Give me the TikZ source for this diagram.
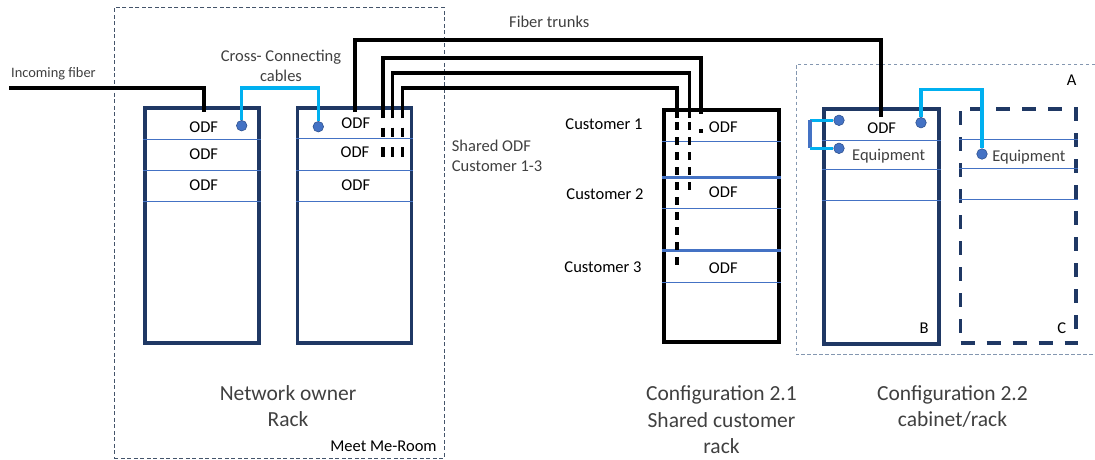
\documentclass[tikz,border=0pt]{standalone}
\usepackage{fontspec}
\setmainfont{Carlito}
\definecolor{navy}{HTML}{1F3864}
\definecolor{rowblue}{HTML}{4472C4}
\definecolor{portedge}{HTML}{2F528F}
\definecolor{xcyan}{HTML}{00B0F0}
\definecolor{roomgray}{HTML}{44546A}
\definecolor{agray}{HTML}{8497B0}
\definecolor{txtgray}{HTML}{404040}
\begin{document}
\begin{tikzpicture}[x=1pt, y=-1pt,
  rack/.style={draw=navy, line width=3.6pt, minimum width=114pt, minimum height=235pt,
               inner sep=0pt},
  rowline/.style={draw=rowblue, line width=0.9pt},
  slab/.style={draw=rowblue, line width=3.2pt},
  port/.style={circle, fill=rowblue, draw=portedge, line width=0.6pt,
               minimum size=10.5pt, inner sep=0pt},
  fiber/.style={draw=black, line width=3.2pt},
  trunk/.style={draw=black, line width=4.4pt},
  stub/.style={draw=black, line width=3.2pt, dash pattern=on 9.5pt off 10pt},
  stubb/.style={draw=black, line width=3.2pt, dash pattern=on 8pt off 7pt},
  xcable/.style={draw=xcyan, line width=3.4pt},
  lbl/.style={font=\fontsize{16.5}{20}\selectfont, inner sep=0pt},
  note/.style={lbl, text=txtgray},
  bigtxt/.style={font=\fontsize{21.5}{26.2}\selectfont, text=txtgray, inner sep=0pt,
                 align=center},
]
\useasboundingbox (0,0) rectangle (1095,460);
\node[draw=roomgray, line width=0.9pt, dash pattern=on 4pt off 2.5pt, minimum width=329.7pt,
      minimum height=451pt, inner sep=0pt] (mmr) at (279.2,232.8) {};
\draw[draw=agray, line width=0.9pt, dash pattern=on 3.5pt off 2.5pt]
  (1095,64.5) -- (796,64.5) -- (796,354.3) -- (1095,354.3);
\node[rack] (r1) at (202,225.5) {};
\node[rack] (r2) at (354.5,225.5) {};
\node[rack, draw=black, line width=4pt, minimum width=115pt, minimum height=232.5pt]
  (r3) at (721,225.75) {};
\node[rack, minimum width=115pt] (rb) at (881.2,226.4) {};
\node[rack, dash pattern=on 14pt off 12pt, minimum width=115.5pt, minimum height=234.3pt]
  (rc) at (1018.25,225.9) {};
\foreach \y in {139.3,170.3,201} \draw[rowline] (r1.west |- 0,\y) -- (r1.east |- 0,\y);
\foreach \y in {138.3,170.3,201} \draw[rowline] (r2.west |- 0,\y) -- (r2.east |- 0,\y);
\foreach \y in {141.7,208.3,282.3} \draw[rowline] (r3.west |- 0,\y) -- (r3.east |- 0,\y);
\foreach \y in {177.3,250.7} \draw[slab] (r3.west |- 0,\y) -- (r3.east |- 0,\y);
\foreach \y in {140,169.3,200.3} \draw[rowline] (rb.west |- 0,\y) -- (rb.east |- 0,\y);
\foreach \y in {139.3,168.3,199.3} \draw[rowline] (rc.west |- 0,\y) -- (rc.east |- 0,\y);
\coordinate (inc) at (9,88);
\coordinate (r1in) at (204,112);
\coordinate (t0a) at (355,112);
\coordinate (t0b) at (881,117);
\coordinate (t1a) at (383,118);
\coordinate (t1b) at (701,114);
\coordinate (t2a) at (392.7,118);
\coordinate (t2b) at (689.5,118);
\coordinate (t3a) at (402.5,118);
\coordinate (t3b) at (677,118);
\coordinate (lpa) at (810,120.3);
\coordinate (lpb) at (810,148.3);
\draw[fiber] (inc) -| (r1in);
\draw[trunk] (t0a) -- ++(0,-72) -| (t0b);
\draw[fiber] (t1a) -- ++(0,-60) -| (t1b);
\draw[fiber] (t2a) -- ++(0,-45) -| (t2b);
\draw[fiber] (t3a) -- ++(0,-30) -| (t3b);
\draw[stub] ([yshift=-9.5pt]t1a) -- ([yshift=-39pt]t1a);
\draw[stub] ([yshift=-9.5pt]t2a) -- ([yshift=-39pt]t2a);
\draw[stub] ([yshift=-9.5pt]t3a) -- ([yshift=-39pt]t3a);
\draw[stubb] ([yshift=-4pt]t3b) -- ([yshift=-150pt]t3b);
\draw[stubb] ([yshift=-4pt]t2b) -- ([yshift=-75pt]t2b);
\draw[fiber] ([yshift=-15pt]t1b) -- ([yshift=-19pt]t1b);
\node[port] (p1) at (241.7,125.7) {};
\node[port] (p2) at (318.3,126.7) {};
\node[port] (p3) at (839,120.3) {};
\node[port] (p4) at (839,148.3) {};
\node[port] (p5) at (921,122.7) {};
\node[port] (p6) at (982,154) {};
\draw[xcable] (p1) -- ++(0,-37.7) -| (p2);
\draw[xcable] (p3) -- (lpa);
\draw[draw=rowblue, line width=3.4pt] (lpa) -- (lpb);
\draw[xcable] (lpb) -- (p4);
\draw[xcable] (p5) -- ++(0,-33.4) -| (p6);
\node[note, anchor=west, font=\fontsize{14.4}{17}\selectfont] (lblinc) at (11,74) {Incoming fiber};
\node[note, align=center] (lblcross) at (281,65.5) {Cross- Connecting\\cables};
\node[note] (lbltrunk) at (549.3,22) {Fiber trunks};
\node[note, align=left, anchor=west] (lblshared) at (451.7,156) {Shared ODF\\Customer 1-3};
\node[lbl] (odf11) at (203.7,127.3) {ODF};
\node[lbl] (odf12) at (203.7,154.3) {ODF};
\node[lbl] (odf13) at (203.7,185.7) {ODF};
\node[lbl] (odf21) at (355.8,123.3) {ODF};
\node[lbl] (odf22) at (355,152.3) {ODF};
\node[lbl] (odf23) at (355.8,185.7) {ODF};
\node[lbl] (cust1) at (604,124) {Customer 1};
\node[lbl] (cust2) at (605,194) {Customer 2};
\node[lbl] (cust3) at (603,267.3) {Customer 3};
\node[lbl] (odf31) at (723.3,127.7) {ODF};
\node[lbl] (odf32) at (723.3,192.7) {ODF};
\node[lbl] (odf33) at (723.3,268.3) {ODF};
\node[lbl] (odfb) at (881.7,128.3) {ODF};
\node[note] (equipb) at (888.7,156.3) {Equipment};
\node[note] (equipc) at (1028.8,157.3) {Equipment};
\node[lbl] (lblA) at (1071.7,80) {A};
\node[lbl] (lblB) at (924,328) {B};
\node[lbl] (lblC) at (1061.7,328) {C};
\node[bigtxt] (lblnet) at (288,406.3) {Network owner\\Rack};
\node[lbl] (lblmeet) at (383.5,446.7) {Meet Me-Room};
\node[bigtxt] (lblcfg1) at (721.5,419.7) {Configuration 2.1\\Shared customer\\rack};
\node[bigtxt] (lblcfg2) at (952.5,406.7) {Configuration 2.2\\cabinet/rack};
\end{tikzpicture}
\end{document}
